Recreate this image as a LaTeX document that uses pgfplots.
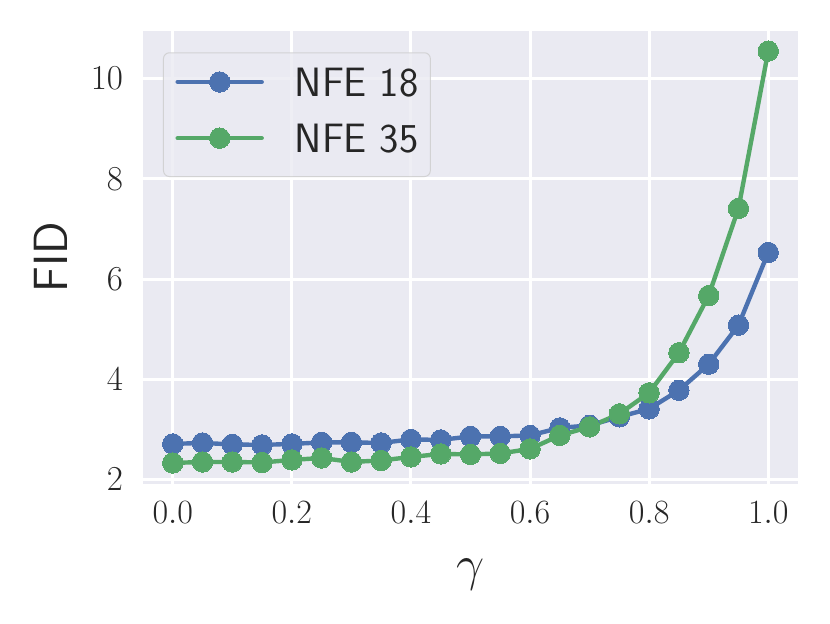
\documentclass[border=0pt]{standalone}
\usepackage{fix-cm}
\usepackage{fontspec}
\usepackage{pgfplots}
\pgfplotsset{compat=1.18}
\definecolor{bgc}{HTML}{EAEAF2}
\definecolor{sbblue}{HTML}{4C72B0}
\definecolor{sbgreen}{HTML}{55A868}
\definecolor{legedge}{HTML}{CCCCCC}
\definecolor{txt}{HTML}{262626}
\begin{document}
\begin{tikzpicture}
\useasboundingbox (0,0) rectangle (415pt,311.5pt);
\begin{axis}[
  at={(71.5pt,69.75pt)}, anchor=south west,
  width=327.5pt, height=226.5pt, scale only axis,
  xmin=-0.05, xmax=1.05, ymin=1.92, ymax=10.96,
  axis background/.style={fill=bgc},
  axis line style={draw=none},
  major tick length=0pt,
  tick style={draw=none},
  grid=major,
  major grid style={white, line width=1.5pt},
  xtick={0,0.2,0.4,0.6,0.8,1.0},
  ytick={2,4,6,8,10},
  xticklabel style={font=\fontsize{17}{20}\selectfont, yshift=-5.3pt, text=txt},
  yticklabel style={font=\fontsize{17.5}{20}\selectfont, xshift=-6.5pt, text=txt},
  x tick label style={/pgf/number format/.cd, fixed, fixed zerofill, precision=1},
  xlabel={$\gamma$},
  ylabel={FID},
  xlabel style={at={(axis description cs:0.5,-0.214)}, anchor=base, font=\fontsize{25}{30}\selectfont, text=txt},
  ylabel style={at={(axis description cs:-0.116,0.5)}, anchor=base, font=\fontsize{24}{29}\selectfont\sffamily, text=txt},
  legend cell align=left,
  legend style={at={(axis description cs:0.0305,0.952)}, anchor=north west,
    fill=bgc, fill opacity=0.8, draw=legedge, draw opacity=0.8, text opacity=1,
    rounded corners=3pt, line width=0.5pt,
    inner xsep=6pt, inner ysep=7.5pt, row sep=9.3pt, column sep=15.5pt,
    font=\fontsize{20.5}{24}\selectfont\sffamily, text=txt,
    nodes={inner sep=0pt, text height=14.2pt, text depth=0pt}},
  legend image code/.code={\path (0pt,-10.6pt) (0pt,5pt);\draw[#1, opacity=1, rounded corners=0pt, mark repeat=2, mark phase=2] plot coordinates {(0pt,0pt) (21pt,0pt) (42pt,0pt)};},
]
\addplot[sbblue, line width=2.2pt, line cap=round, line join=round, mark=*, mark size=5.1pt, mark options={solid, fill=sbblue, draw=sbblue, line width=0pt}] coordinates {
(0,2.71) (0.05,2.73) (0.1,2.70) (0.15,2.69) (0.2,2.71) (0.25,2.74) (0.3,2.74) (0.35,2.73) (0.4,2.80) (0.45,2.79) (0.5,2.86) (0.55,2.86) (0.6,2.88) (0.65,3.03) (0.7,3.08) (0.75,3.25) (0.8,3.41) (0.85,3.78) (0.9,4.30) (0.95,5.08) (1.0,6.53)};
\addlegendentry{NFE 18}
\addplot[sbgreen, line width=2.2pt, line cap=round, line join=round, mark=*, mark size=5.1pt, mark options={solid, fill=sbgreen, draw=sbgreen, line width=0pt}] coordinates {
(0,2.33) (0.05,2.35) (0.1,2.35) (0.15,2.34) (0.2,2.39) (0.25,2.43) (0.3,2.35) (0.35,2.38) (0.4,2.45) (0.45,2.51) (0.5,2.50) (0.55,2.52) (0.6,2.61) (0.65,2.88) (0.7,3.05) (0.75,3.31) (0.8,3.73) (0.85,4.53) (0.9,5.67) (0.95,7.41) (1.0,10.55)};
\addlegendentry{NFE 35}
\end{axis}
\end{tikzpicture}
\end{document}
